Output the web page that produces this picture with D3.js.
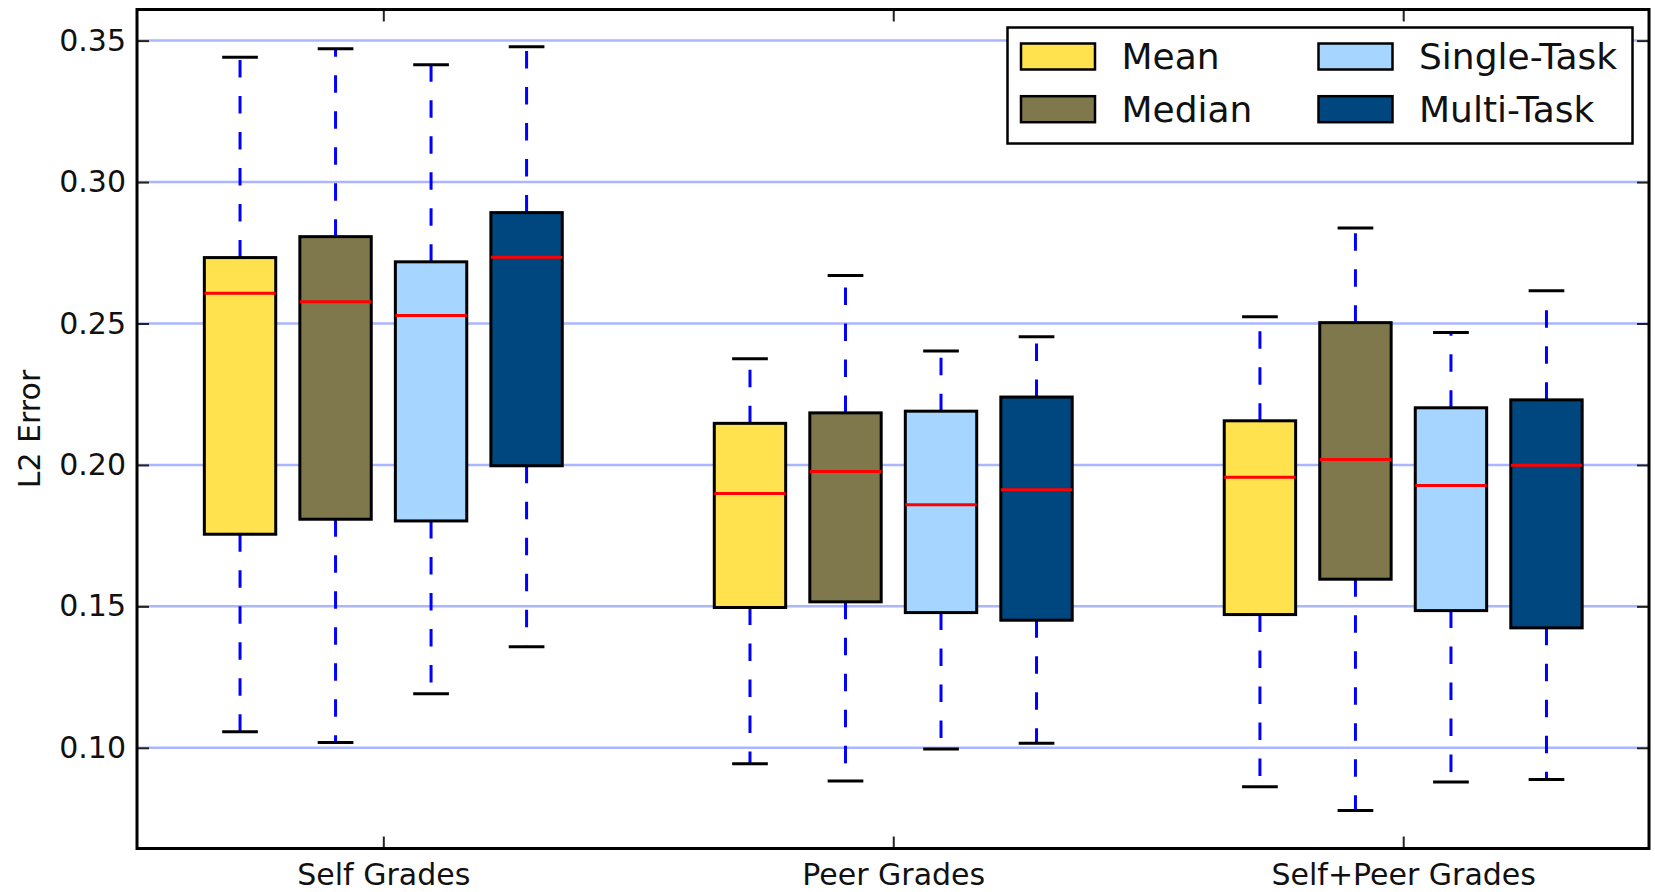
<!DOCTYPE html>
<html>
<head>
<meta charset="utf-8">
<script src="https://cdn.jsdelivr.net/npm/d3@7/dist/d3.min.js"></script>
<style>
  html, body { margin: 0; padding: 0; background: #ffffff; }
  svg { display: block; font-family: "DejaVu Sans", sans-serif; }
</style>
</head>
<body>
<svg id="chart" width="1655" height="892"></svg>
<script>
// Groups along the x axis
const groups = ["Self Grades", "Peer Grades", "Self+Peer Grades"];

// Methods (one box per method in every group)
const methods = ["Mean", "Median", "Single-Task", "Multi-Task"];
const methodColors = ["#ffe24d", "#80784d", "#a6d5ff", "#00467f"];

// Box statistics per group: [lower whisker, Q1, median, Q3, upper whisker]
const meanStats = [
  [0.1057, 0.1755, 0.2607, 0.2733, 0.3441],
  [0.0944, 0.1496, 0.1899, 0.2147, 0.2375],
  [0.0862, 0.1471, 0.1956, 0.2156, 0.2524]
];
const medianStats = [
  [0.1019, 0.1808, 0.2577, 0.2807, 0.3471],
  [0.0883, 0.1516, 0.1977, 0.2184, 0.2670],
  [0.0778, 0.1596, 0.2019, 0.2503, 0.2838]
];
const singleTaskStats = [
  [0.1191, 0.1802, 0.2528, 0.2718, 0.3415],
  [0.0996, 0.1478, 0.1859, 0.2190, 0.2403],
  [0.0879, 0.1485, 0.1927, 0.2202, 0.2468]
];
const multiTaskStats = [
  [0.1357, 0.1997, 0.2734, 0.2892, 0.3478],
  [0.1016, 0.1451, 0.1912, 0.2240, 0.2453],
  [0.0888, 0.1424, 0.1999, 0.2230, 0.2616]
];

// Y axis tick values
const yTicks = [0.10, 0.15, 0.20, 0.25, 0.30, 0.35];
const yLabel = "L2 Error";

const seriesStats = [meanStats, medianStats, singleTaskStats, multiTaskStats];

// Plot frame
const plotL = 137, plotR = 1649, plotT = 9.5, plotB = 848.5;

const svg = d3.select("#chart");

const x = d3.scaleLinear().domain([0.517, 3.482]).range([plotL, plotR]);
const y = d3.scaleLinear().domain([0.0644, 0.3610]).range([plotB, plotT]);

const slot = 0.1873;      // spacing between neighbouring boxes
const boxW = 0.14;        // box width
const capW = boxW / 2;    // whisker cap width

// Horizontal grid
svg.append("g")
  .selectAll("line")
  .data(yTicks)
  .join("line")
  .attr("x1", plotL).attr("x2", plotR)
  .attr("y1", d => y(d)).attr("y2", d => y(d))
  .attr("stroke", "#aab6ff")
  .attr("stroke-width", 2.5);

// Flatten into box records
const boxes = [];
seriesStats.forEach((stats, si) => {
  stats.forEach((s, gi) => {
    boxes.push({
      series: si,
      pos: gi + 1 + (si - 1.5) * slot,
      lo: s[0], q1: s[1], med: s[2], q3: s[3], hi: s[4]
    });
  });
});

const gBox = svg.append("g");
const bx = gBox.selectAll("g").data(boxes).join("g");

// Whiskers (dashed, drawn outward from the box)
bx.append("line")
  .attr("x1", d => x(d.pos)).attr("x2", d => x(d.pos))
  .attr("y1", d => y(d.q3)).attr("y2", d => y(d.hi))
  .attr("stroke", "#0000ff").attr("stroke-width", 3)
  .attr("stroke-dasharray", "17.5,18.5");
bx.append("line")
  .attr("x1", d => x(d.pos)).attr("x2", d => x(d.pos))
  .attr("y1", d => y(d.q1)).attr("y2", d => y(d.lo))
  .attr("stroke", "#0000ff").attr("stroke-width", 3)
  .attr("stroke-dasharray", "17.5,18.5");

// Caps
["hi", "lo"].forEach(k => {
  bx.append("line")
    .attr("x1", d => x(d.pos - capW / 2)).attr("x2", d => x(d.pos + capW / 2))
    .attr("y1", d => y(d[k])).attr("y2", d => y(d[k]))
    .attr("stroke", "#000000").attr("stroke-width", 3);
});

// Boxes
bx.append("rect")
  .attr("x", d => x(d.pos - boxW / 2))
  .attr("width", d => x(d.pos + boxW / 2) - x(d.pos - boxW / 2))
  .attr("y", d => y(d.q3))
  .attr("height", d => y(d.q1) - y(d.q3))
  .attr("fill", d => methodColors[d.series])
  .attr("stroke", "#000000").attr("stroke-width", 3);

// Medians
bx.append("line")
  .attr("x1", d => x(d.pos - boxW / 2)).attr("x2", d => x(d.pos + boxW / 2))
  .attr("y1", d => y(d.med)).attr("y2", d => y(d.med))
  .attr("stroke", "#ff0000").attr("stroke-width", 3);

// Axes with inward ticks
const fontSize = 30;
const axLeft = svg.append("g").attr("transform", `translate(${plotL},0)`)
  .call(d3.axisLeft(y).tickValues(yTicks).tickFormat(d3.format(".2f"))
    .tickSizeInner(-12).tickSizeOuter(0).tickPadding(11));
const axRight = svg.append("g").attr("transform", `translate(${plotR},0)`)
  .call(d3.axisRight(y).tickValues(yTicks).tickFormat("")
    .tickSizeInner(-12).tickSizeOuter(0));
const xTickVals = groups.map((g, i) => i + 1);
const axBottom = svg.append("g").attr("transform", `translate(0,${plotB})`)
  .call(d3.axisBottom(x).tickValues(xTickVals).tickFormat((d, i) => groups[i])
    .tickSizeInner(-12).tickSizeOuter(0));
const axTop = svg.append("g").attr("transform", `translate(0,${plotT})`)
  .call(d3.axisTop(x).tickValues(xTickVals).tickFormat("")
    .tickSizeInner(-12).tickSizeOuter(0));

[axLeft, axRight, axBottom, axTop].forEach(a => {
  a.select(".domain").remove();
  a.selectAll(".tick line").attr("stroke", "#222").attr("stroke-width", 2);
  a.selectAll("text").attr("font-family", "DejaVu Sans, sans-serif")
    .attr("font-size", fontSize).attr("fill", "#111");
});
axBottom.selectAll("text").attr("y", 36.5).attr("dy", 0);

// Frame
svg.append("rect")
  .attr("x", plotL).attr("y", plotT)
  .attr("width", plotR - plotL).attr("height", plotB - plotT)
  .attr("fill", "none").attr("stroke", "#000").attr("stroke-width", 3);

// Y axis title
svg.append("text")
  .attr("transform", `translate(40,${(plotT + plotB) / 2}) rotate(-90)`)
  .attr("text-anchor", "middle")
  .attr("font-size", fontSize).attr("fill", "#111")
  .text(yLabel);

// Legend (two columns)
const lg = svg.append("g");
lg.append("rect")
  .attr("x", 1007.5).attr("y", 27.5).attr("width", 625).attr("height", 116)
  .attr("fill", "#fff").attr("stroke", "#000").attr("stroke-width", 2.5);
const legendItems = methods.map((m, i) => ({
  name: m, color: methodColors[i], col: Math.floor(i / 2), row: i % 2
}));
const li = lg.selectAll("g.item").data(legendItems).join("g").attr("class", "item")
  .attr("transform", d => `translate(${1021 + d.col * 297.5},${43.5 + d.row * 52.7})`);
li.append("rect")
  .attr("width", 74).attr("height", 26)
  .attr("fill", d => d.color)
  .attr("stroke", "#000").attr("stroke-width", 2.5);
li.append("text")
  .attr("x", 100.5).attr("y", 13)
  .attr("dy", "0.36em")
  .attr("font-size", 36).attr("fill", "#111")
  .text(d => d.name);
</script>
</body>
</html>
